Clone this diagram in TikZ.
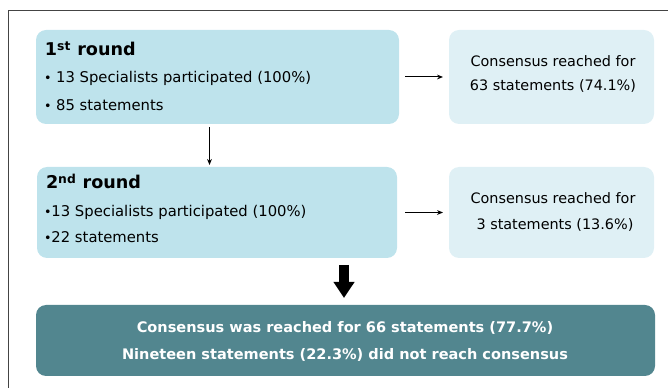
\documentclass[tikz,border=0pt]{standalone}
\usepackage{fontspec}
\setmainfont{DejaVu Sans}
\usetikzlibrary{arrows.meta,calc}
\definecolor{boxblue}{HTML}{BEE3EC}
\definecolor{boxpale}{HTML}{DFF0F5}
\definecolor{boxteal}{HTML}{52868F}
\definecolor{framegray}{HTML}{444444}
\newcommand{\blt}{{\fontsize{9.5pt}{11pt}\selectfont\textbullet}}
\tikzset{
  panel/.style={rounded corners=7.5pt, inner sep=0pt, outer sep=0pt, draw=none},
  txt/.style={inner sep=0pt, outer sep=0pt, font=\fontsize{11.1pt}{13pt}\selectfont},
  rtxt/.style={inner sep=0pt, outer sep=0pt, font=\fontsize{10.8pt}{13pt}\selectfont},
  head/.style={inner sep=0pt, outer sep=0pt, font=\fontsize{13.2pt}{15pt}\selectfont\bfseries},
  btxt/.style={inner sep=0pt, outer sep=0pt, text=white, font=\fontsize{10.9pt}{13pt}\selectfont\bfseries},
  thin arrow/.style={-{Stealth[length=4.5pt,width=3.6pt]}, line width=0.75pt},
  block arrow/.style={-{Triangle[length=12pt,width=15pt]}, line width=7.5pt}
}
\begin{document}
\begin{tikzpicture}[x=0.75pt,y=-0.75pt]
\useasboundingbox (0,0) rectangle (668,388);
\clip (0,0) rectangle (668,388);
\draw[framegray, line width=1.1pt] (8.5,10.5) rectangle (720,420);
% boxes
\node[panel, fill=boxblue, minimum width=363*0.75pt, minimum height=94*0.75pt] (b1) at (217.5,77) {};
\node[panel, fill=boxpale, minimum width=205*0.75pt, minimum height=94*0.75pt] (r1) at (551.5,77) {};
\node[panel, fill=boxblue, minimum width=360*0.75pt, minimum height=91*0.75pt] (b2) at (217,212.5) {};
\node[panel, fill=boxpale, minimum width=205*0.75pt, minimum height=91*0.75pt] (r2) at (551.5,212.5) {};
\node[panel, fill=boxteal, minimum width=619*0.75pt, minimum height=71*0.75pt] (bot) at (345.5,340.5) {};
% texts
\node[head, anchor=base west] (h1) at (45,56) {1\textsuperscript{st} round};
\node[txt, anchor=base west] (l11) at (44,83) {\blt\ 13 Specialists participated (100\%)};
\node[txt, anchor=base west] (l12) at (44,111) {\blt\ 85 statements};
\node[rtxt, anchor=base] (c11) at (553,67) {Consensus reached for};
\node[rtxt, anchor=base] (c12) at (553,91) {63 statements (74.1\%)};
\node[head, anchor=base west] (h2) at (46,189) {2\textsuperscript{nd} round};
\node[txt, anchor=base west] (l21) at (44,217) {\blt13 Specialists participated (100\%)};
\node[txt, anchor=base west] (l22) at (44,243) {\blt22 statements};
\node[rtxt, anchor=base] (c21) at (553,204) {Consensus reached for};
\node[rtxt, anchor=base] (c22) at (555,230) {3 statements (13.6\%)};
\node[btxt, anchor=base] (t1) at (345,333) {Consensus was reached for 66 statements (77.7\%)};
\node[btxt, anchor=base] (t2) at (345,360) {Nineteen statements (22.3\%) did not reach consensus};
% connectors
\draw[thin arrow, shorten <=6*0.75pt, shorten >=6*0.75pt] (b1.east) -- (r1.west);
\draw[thin arrow, shorten <=8*0.75pt, shorten >=6*0.75pt] (b2.east |- r2.west) -- (r2.west);
\draw[thin arrow, shorten <=3*0.75pt, shorten >=2*0.75pt] ([xshift=-6pt]b1.south) -- ([xshift=-6pt]b1.south |- b2.north);
\draw[block arrow] ($(bot.north)+(-1.5,-40)$) -- ($(bot.north)+(-1.5,-7)$);
\end{tikzpicture}
\end{document}
